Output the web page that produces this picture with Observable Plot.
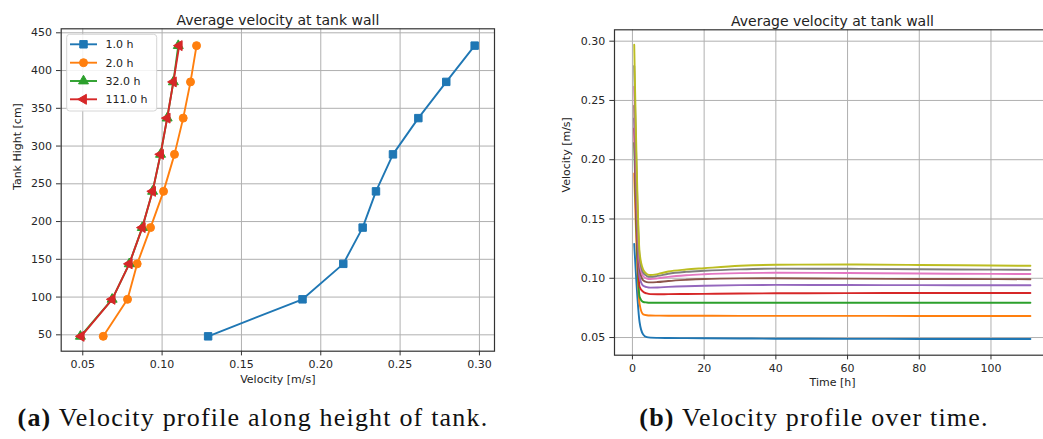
<!DOCTYPE html>
<html><head><meta charset="utf-8">
<script src="https://cdn.jsdelivr.net/npm/d3@7"></script>
<script src="https://cdn.jsdelivr.net/npm/@observablehq/plot@0.6"></script>
<style>
html,body{margin:0;padding:0;background:#fff;overflow:hidden;}
#wrap{position:relative;width:1043px;height:439px;overflow:hidden;background:#fff;}
.chart{position:absolute;top:0;}
.cap{position:absolute;top:403px;font-family:"Liberation Serif","DejaVu Serif",serif;font-size:26px;letter-spacing:1.2px;color:#111;white-space:nowrap;transform:translateX(-50%);}
.cap b{font-weight:bold;}
</style></head><body><div id="wrap"></div>
<script>
// ---------- data: left chart (velocity profile along tank height) ----------
const heightsCm = [48, 97, 144, 192, 240, 289, 337, 385, 433];
const vel1h   = [0.129, 0.1885, 0.2142, 0.2264, 0.2348, 0.2455, 0.2615, 0.2791, 0.297];
const vel2h   = [0.0629, 0.0782, 0.0843, 0.0927, 0.1009, 0.1078, 0.1133, 0.1179, 0.1217];
const vel32h  = [0.0485, 0.0685, 0.0793, 0.0875, 0.0940, 0.0990, 0.1032, 0.1071, 0.1102];
const vel111h = [0.0490, 0.0685, 0.0793, 0.0875, 0.0940, 0.0990, 0.1032, 0.1071, 0.1108];
const profileLabels = ["1.0 h", "2.0 h", "32.0 h", "111.0 h"];
const leftXTicks = [0.05, 0.10, 0.15, 0.20, 0.25, 0.30];
const leftYTicks = [50, 100, 150, 200, 250, 300, 350, 400, 450];

// ---------- data: right chart (velocity over time, one line per height) ----------
const timeH = [0.5, 2, 3, 4, 5, 7, 10, 15, 20, 30, 40, 60, 80, 100, 111];
const velH48  = [0.129, 0.0629, 0.0525, 0.0503, 0.0499, 0.0497, 0.0496, 0.0495, 0.0494, 0.0492, 0.0490, 0.0489, 0.0488, 0.0488, 0.0488];
const velH97  = [0.1885, 0.0782, 0.0696, 0.0688, 0.0686, 0.0685, 0.0684, 0.0684, 0.0684, 0.0683, 0.0683, 0.0683, 0.0682, 0.0682, 0.0682];
const velH144 = [0.2142, 0.0843, 0.0800, 0.0796, 0.0794, 0.0793, 0.0793, 0.0793, 0.0793, 0.0793, 0.0793, 0.0793, 0.0793, 0.0793, 0.0793];
const velH192 = [0.2264, 0.0927, 0.0886, 0.0872, 0.0866, 0.0865, 0.0866, 0.0867, 0.0868, 0.0871, 0.0873, 0.0875, 0.0876, 0.0876, 0.0876];
const velH240 = [0.2348, 0.1009, 0.0937, 0.0925, 0.0921, 0.0922, 0.0927, 0.0933, 0.0937, 0.0942, 0.0944, 0.0943, 0.0942, 0.0941, 0.0941];
const velH289 = [0.2455, 0.1078, 0.0982, 0.0968, 0.0965, 0.0968, 0.0977, 0.0987, 0.0994, 0.0999, 0.1000, 0.0997, 0.0994, 0.0993, 0.0992];
const velH337 = [0.2615, 0.1133, 0.1017, 0.0998, 0.0994, 0.0999, 0.1012, 0.1026, 0.1034, 0.1043, 0.1046, 0.1044, 0.1040, 0.1037, 0.1036];
const velH385 = [0.2791, 0.1179, 0.1046, 0.1019, 0.1012, 0.1020, 0.1038, 0.1054, 0.1063, 0.1075, 0.1081, 0.1080, 0.1076, 0.1073, 0.1071];
const velH433 = [0.2970, 0.1217, 0.1072, 0.1036, 0.1027, 0.1035, 0.1057, 0.1074, 0.1085, 0.1105, 0.1114, 0.1116, 0.1112, 0.1108, 0.1105];
const rightXTicks = [0, 20, 40, 60, 80, 100];
const rightYTicks = [0.05, 0.10, 0.15, 0.20, 0.25, 0.30];

const titleText = "Average velocity at tank wall";
const tab10 = ["#1f77b4", "#ff7f0e", "#2ca02c", "#d62728", "#9467bd", "#8c564b", "#e377c2", "#7f7f7f", "#bcbd22"];

// left-pointing triangle symbol
const triangleLeft = {
  draw(ctx, size) {
    const y = -Math.sqrt(size / (Math.sqrt(3) * 3));
    ctx.moveTo(y * 2, 0);
    ctx.lineTo(-y, -Math.sqrt(3) * y);
    ctx.lineTo(-y, Math.sqrt(3) * y);
    ctx.closePath();
  }
};

const FONT = "DejaVu Sans";
const gridOpts = {stroke: "#b0b0b0", strokeOpacity: 1, strokeWidth: 1};
const wrap = document.getElementById("wrap");

// ---------- left chart ----------
{
  const profiles = [vel1h, vel2h, vel32h, vel111h];
  const symbols = ["square", "circle", "triangle", triangleLeft];
  const radii = [4.2, 4.0, 3.7, 3.7];
  const seriesMarks = [];
  profiles.forEach((vals, i) => {
    const rows = heightsCm.map((h, j) => ({h, v: vals[j]}));
    seriesMarks.push(Plot.line(rows, {x: "v", y: "h", stroke: tab10[i], strokeWidth: 1.9}));
    seriesMarks.push(Plot.dot(rows, {x: "v", y: "h", symbol: symbols[i], r: radii[i], fill: tab10[i], stroke: tab10[i], strokeWidth: 1}));
  });
  const W = 500, H = 400, mL = 60.7, mR = 6, mT = 28.3, mB = 49.3;
  const chart = Plot.plot({
    width: W, height: H, marginLeft: mL, marginRight: mR, marginTop: mT, marginBottom: mB,
    style: {fontFamily: FONT, fontSize: "11px", color: "#262626", background: "transparent", overflow: "visible"},
    x: {domain: [0.0364, 0.3095]},
    y: {domain: [28.3, 455.3]},
    marks: [
      Plot.gridX(leftXTicks, gridOpts),
      Plot.gridY(leftYTicks, gridOpts),
      ...seriesMarks,
      Plot.frame({stroke: "#333", strokeWidth: 1.2}),
      Plot.axisX({ticks: leftXTicks, tickFormat: d3.format(".2f"), tickSize: 4.7, tickPadding: 4.5, label: null, stroke: "#333"}),
      Plot.axisY({ticks: leftYTicks, tickFormat: d3.format("d"), tickSize: 4.7, tickPadding: 4.5, label: null, stroke: "#333"}),
      Plot.text([titleText], {text: d => d, frameAnchor: "top", dy: -13.5, fontSize: 14, fill: "#222"}),
      Plot.text(["Velocity [m/s]"], {text: d => d, frameAnchor: "bottom", dy: 31.5, fontSize: 11, fill: "#222"}),
      Plot.text(["Tank Hight [cm]"], {text: d => d, frameAnchor: "left", dx: -43.7, rotate: -90, fontSize: 11, fill: "#222"})
    ]
  });
  chart.classList.add("chart");
  chart.style.left = "0px";
  wrap.appendChild(chart);

  // legend (matplotlib style, upper left)
  const leg = d3.select(wrap).append("svg").attr("class", "chart")
    .attr("width", 200).attr("height", 130).style("left", "0px").style("top", "0px")
    .style("font-family", FONT).style("font-size", "11px");
  leg.append("rect").attr("x", 66.7).attr("y", 34.3).attr("width", 90).attr("height", 76.7)
    .attr("rx", 3).attr("fill", "#fff").attr("fill-opacity", 0.85).attr("stroke", "#d6d6d6");
  const legY = [44.3, 62.7, 81, 99.3];
  profileLabels.forEach((lab, i) => {
    const g = leg.append("g").attr("transform", `translate(0,${legY[i]})`);
    g.append("line").attr("x1", 70).attr("x2", 97).attr("stroke", tab10[i]).attr("stroke-width", 1.9);
    const sym = typeof symbols[i] === "string" ? {square: d3.symbolSquare, circle: d3.symbolCircle, triangle: d3.symbolTriangle}[symbols[i]] : symbols[i];
    g.append("path").attr("transform", "translate(83.5,0)")
      .attr("d", d3.symbol(sym, radii[i] * radii[i] * Math.PI)())
      .attr("fill", tab10[i]).attr("stroke", tab10[i]);
    g.append("text").attr("x", 105.5).attr("y", 0).attr("dy", "0.35em").attr("fill", "#222").text(lab);
  });
}

// ---------- right chart ----------
{
  const series = [velH48, velH97, velH144, velH192, velH240, velH289, velH337, velH385, velH433];
  const lineMarks = series.map((vals, i) =>
    Plot.line(timeH.map((t, j) => ({t, v: vals[j]})), {x: "t", y: "v", stroke: tab10[i], strokeWidth: 1.9, curve: "monotone-x"}));
  const W = 520, H = 400, mL = 74, mR = 10, mT = 29.3, mB = 45.3;
  const chart = Plot.plot({
    width: W, height: H, marginLeft: mL, marginRight: mR, marginTop: mT, marginBottom: mB,
    style: {fontFamily: FONT, fontSize: "11px", color: "#262626", background: "transparent", overflow: "visible"},
    x: {domain: [-5, 116.6]},
    y: {domain: [0.0351, 0.3096]},
    marks: [
      Plot.gridX(rightXTicks, gridOpts),
      Plot.gridY(rightYTicks, gridOpts),
      ...lineMarks,
      Plot.frame({stroke: "#333", strokeWidth: 1.2}),
      Plot.axisX({ticks: rightXTicks, tickFormat: d3.format("d"), tickSize: 4.7, tickPadding: 4.5, label: null, stroke: "#333"}),
      Plot.axisY({ticks: rightYTicks, tickFormat: d3.format(".2f"), tickSize: 4.7, tickPadding: 4.5, label: null, stroke: "#333"}),
      Plot.text([titleText], {text: d => d, frameAnchor: "top", dy: -13.5, fontSize: 14, fill: "#222"}),
      Plot.text(["Time [h]"], {text: d => d, frameAnchor: "bottom", dy: 31, fontSize: 11, fill: "#222"}),
      Plot.text(["Velocity [m/s]"], {text: d => d, frameAnchor: "left", dx: -48, rotate: -90, fontSize: 11, fill: "#222"})
    ]
  });
  chart.classList.add("chart");
  chart.style.left = "540px";
  wrap.appendChild(chart);
}

// ---------- captions ----------
const capA = document.createElement("div");
capA.className = "cap"; capA.style.left = "253px";
capA.innerHTML = "<b>(a)</b> Velocity profile along height of tank.";
wrap.appendChild(capA);
const capB = document.createElement("div");
capB.className = "cap"; capB.style.left = "814px";
capB.innerHTML = "<b>(b)</b> Velocity profile over time.";
wrap.appendChild(capB);
</script>
</body></html>
